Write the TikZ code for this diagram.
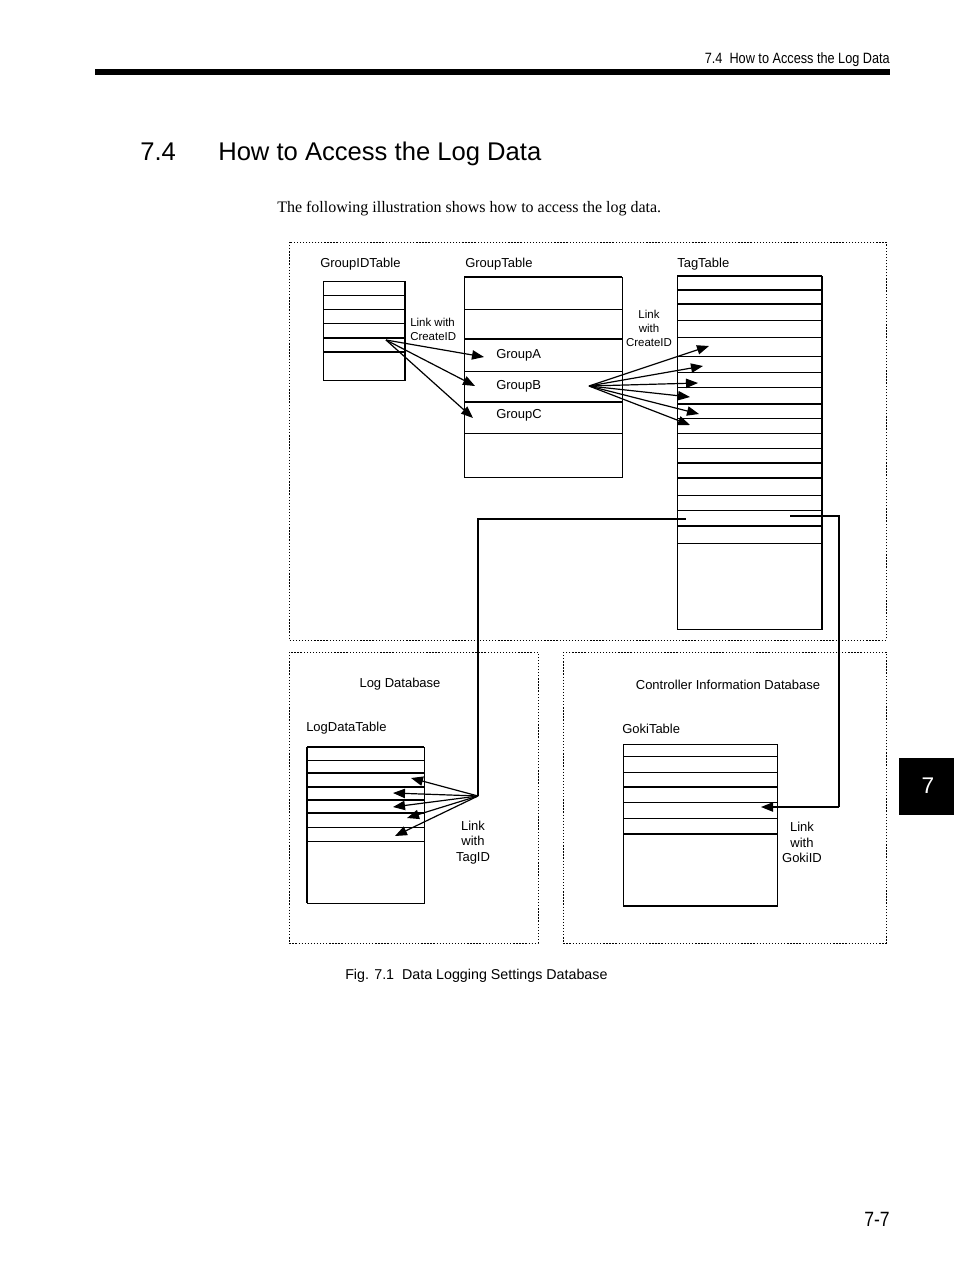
\documentclass[tikz,border=0pt]{standalone}
\usepackage{fontspec}
\setmainfont{Liberation Sans}
\newfontfamily\seriffont{Liberation Serif}
\newfontfamily\narrowfont[FakeStretch=0.85]{Liberation Sans}
\usetikzlibrary{arrows.meta}
\tikzset{
  thinl/.style={line width=0.75pt},
  thickl/.style={line width=1.6pt},
  dbox/.style={line width=0.75pt, dash pattern=on 1pt off 1.3pt},
  lbl/.style={inner sep=0pt, font=\fontsize{9.75pt}{11.5pt}\selectfont},
  smalllbl/.style={inner sep=0pt, font=\fontsize{8.6pt}{10.5pt}\selectfont},
  link/.style={line width=0.9pt, -{Triangle[length=9pt,width=7pt]}},
  wire/.style={line width=0.9pt}
}
\begin{document}
\begin{tikzpicture}[x=0.75pt,y=-0.75pt]
\useasboundingbox (0,0) rectangle (954,1274);

% header
\node[inner sep=0pt, anchor=base east, font=\narrowfont\fontsize{11.2pt}{13pt}\selectfont] (hdr) at (890,63) {7.4\ \ How to Access the Log Data};
\fill (95,69) rectangle (890,75);

% title
\node[inner sep=0pt, anchor=base west, font=\fontsize{19.2pt}{23pt}\selectfont] (tnum) at (140,160) {7.4};
\node[inner sep=0pt, anchor=base west, font=\fontsize{19.2pt}{23pt}\selectfont] (ttxt) at (218,160) {How to Access the Log Data};

% body
\node[inner sep=0pt, anchor=base west, font=\seriffont\fontsize{12pt}{14pt}\selectfont] (body) at (277,212) {The following illustration shows how to access the log data.};

% dotted frames
\draw[dbox] (289,242) rectangle (886,640);
\draw[dbox] (289,652) rectangle (538,943);
\draw[dbox] (563,652) rectangle (886,943);

% ---------- GroupIDTable ----------
\node[lbl, anchor=west] (gidlbl) at (320,264.5) {GroupIDTable};
\draw[thinl] (323,281) rectangle (405,380);
\draw[thickl] (405,281) -- (405,380);
\foreach \y in {295,309,323} \draw[thinl] (323,\y) -- (405,\y);
\foreach \y in {338,352} \draw[thickl] (323,\y) -- (405,\y);

% ---------- GroupTable ----------
\node[lbl, anchor=west] (gtlbl) at (465,264.5) {GroupTable};
\draw[thinl] (464,277) rectangle (622,477);
\draw[thickl] (464,277) -- (622,277);
\foreach \y in {309,371,433} \draw[thinl] (464,\y) -- (622,\y);
\foreach \y in {339,402} \draw[thickl] (464,\y) -- (622,\y);
\node[lbl, anchor=west] (ga) at (496,355.5) {GroupA};
\node[lbl, anchor=west] (gb) at (496,386.5) {GroupB};
\node[lbl, anchor=west] (gc) at (496,415.5) {GroupC};

% ---------- TagTable ----------
\node[lbl, anchor=west] (ttlbl) at (677,264.5) {TagTable};
\draw[thinl] (677,276) rectangle (822,629);
\draw[thickl] (822,276) -- (822,629);
\draw[thickl] (677,276) -- (822,276);
\foreach \y in {320,337,356,372,387,418,433,448,495,510,543} \draw[thinl] (677,\y) -- (822,\y);
\foreach \y in {290,304,404,463,478,526} \draw[thickl] (677,\y) -- (822,\y);

% link labels (top)
\node[smalllbl, anchor=west, align=left] (lk1) at (410,329) {Link with\\CreateID};
\node[smalllbl, align=center] (lk2) at (649,328) {Link\\with\\CreateID};

% GroupIDTable -> GroupTable
\coordinate (gidsrc) at (386,340);
\coordinate (gA) at (484,357);
\coordinate (gB) at (475,386);
\coordinate (gC) at (473,418);
\draw[link] (gidsrc) -- (gA);
\draw[link] (gidsrc) -- (gB);
\draw[link] (gidsrc) -- (gC);

% GroupB -> TagTable
\coordinate (gbsrc) at (589,386);
\coordinate (t1) at (709,346);
\coordinate (t2) at (703,366);
\coordinate (t3) at (698,383);
\coordinate (t4) at (690,397);
\coordinate (t5) at (699,414);
\coordinate (t6) at (690,425);
\foreach \t in {t1,t2,t3,t4,t5,t6} \draw[link] (gbsrc) -- (\t);

% ---------- Log Database ----------
\node[lbl] (logdb) at (400,684.5) {Log Database};
\node[lbl, anchor=west] (ldlbl) at (306,728.5) {LogDataTable};
\draw[thinl] (307,747) rectangle (424,903);
\draw[thickl] (307,747) -- (424,747);
\draw[thickl] (307,747) -- (307,903);
\foreach \y in {760,827,841} \draw[thinl] (307,\y) -- (424,\y);
\foreach \y in {773,787,800,813} \draw[thickl] (307,\y) -- (424,\y);
\node[lbl, align=center] (lk3) at (473,842.5) {Link\\with\\TagID};

% TagTable -> LogDataTable
\coordinate (tagsrc) at (686,519);
\coordinate (tagbend) at (478,519);
\coordinate (tagfan) at (478,796);
\draw[wire] (tagsrc) -- (tagbend) -- (tagfan);
\coordinate (l1) at (411,778);
\coordinate (l2) at (393,793);
\coordinate (l3) at (393,807);
\coordinate (l4) at (407,818);
\coordinate (l5) at (395,836);
\foreach \t in {l1,l2,l3,l4,l5} \draw[link] (tagfan) -- (\t);

% ---------- Controller Information Database ----------
\node[lbl] (ctrldb) at (728,684.5) {Controller Information Database};
\node[lbl, anchor=west] (gklbl) at (622,728.5) {GokiTable};
\draw[thinl] (623,744) rectangle (777,906);
\draw[thickl] (623,906) -- (777,906);
\foreach \y in {756,772,802,818} \draw[thinl] (623,\y) -- (777,\y);
\foreach \y in {787,834} \draw[thickl] (623,\y) -- (777,\y);
\node[lbl, align=center] (lk4) at (802,842.5) {Link\\with\\GokiID};

% TagTable -> GokiTable
\coordinate (gksrc) at (790,516);
\coordinate (gkb1) at (839,516);
\coordinate (gkb2) at (839,807);
\coordinate (gkdst) at (761,807);
\draw[wire] (gksrc) -- (gkb1) -- (gkb2);
\draw[link] (gkb2) -- (gkdst);

% caption
\node[inner sep=0pt, anchor=west, font=\fontsize{10.7pt}{13pt}\selectfont] (cap) at (345,975.5) {Fig. 7.1\ \ Data Logging Settings Database};

% side tab
\fill (899,758) rectangle (954,815);
\node[inner sep=0pt, text=white, font=\fontsize{17pt}{20pt}\selectfont] (tab) at (928,786) {7};

% page number
\node[inner sep=0pt, anchor=base east, font=\narrowfont\fontsize{15.5pt}{18pt}\selectfont] (pg) at (890,1226) {7-7};
\end{tikzpicture}
\end{document}
